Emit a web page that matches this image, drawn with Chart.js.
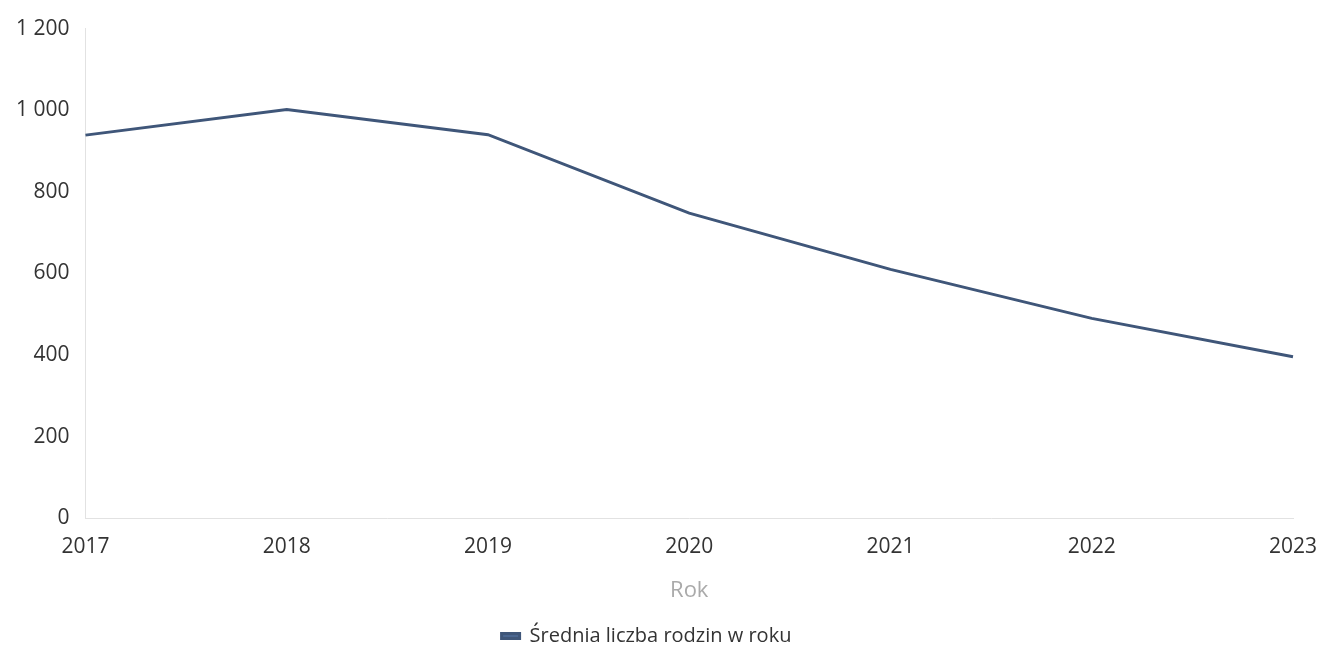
<!DOCTYPE html>
<html>
<head>
<meta charset="utf-8">
<script src="https://cdn.jsdelivr.net/npm/chart.js@4"></script>
<style>
  html, body { margin: 0; padding: 0; background: #fff; overflow: hidden; }
  #wrap { width: 1317px; height: 656px; }
</style>
</head>
<body>
<div id="wrap"><canvas id="lineChart"></canvas></div>
<script>
const years = ['2017', '2018', '2019', '2020', '2021', '2022', '2023'];
const avgFamilies = [939, 1002, 940, 748, 610, 490, 396];
const yTicks = [0, 200, 400, 600, 800, 1000, 1200];

function fmt(v){
    return String(v).replace(/\B(?=(\d{3})+(?!\d))/g, ' ')
}

const data = {
  labels: years,
  datasets: [{
    label: 'Średnia liczba rodzin w roku',
    data: avgFamilies,
    borderColor: '#3f5679',
    backgroundColor: '#4a6690',
    borderWidth: 3,
    pointRadius: 0,
    tension: 0
  }]
};

const config = {
  type: 'line',
  data: data,
  options: {
    responsive: true,
    maintainAspectRatio: false,
    animation: false,
    layout: { padding: { top: 9, right: 24, left: 0, bottom: 0 } },
    plugins: {
      legend: {
        position: 'bottom',
        labels: {
          boxWidth: 18,
          boxHeight: 5,
          padding: 5,
          color: '#333',
          font: { family: 'Open Sans', size: 20 }
        }
      },
      tooltip: { enabled: false }
    },
    scales: {
      x: {
        grid: { display: false, drawTicks: false },
        border: { color: '#e2e2e2' },
        afterFit: function(s){ s.paddingRight = 0 },
        ticks: { color: '#333', padding: 16, font: { family: 'Open Sans', size: 21 } },
        title: { display: true, text: 'Rok', color: '#aaa', padding: { top: 2, bottom: 17 }, font: { family: 'Open Sans', size: 22 } }
      },
      y: {
        min: 0,
        max: 1200,
        afterBuildTicks: function(axis){ axis.ticks = yTicks.map(v => ({ value: v })) },
        grid: { display: false, drawTicks: false },
        border: { color: '#e2e2e2' },
        ticks: { color: '#333', padding: 16, font: { family: 'Open Sans', size: 21 }, callback: v => fmt(v) }
      }
    }
  }
};

const lineChart = new Chart(document.getElementById('lineChart'), config);
</script>
</body>
</html>
